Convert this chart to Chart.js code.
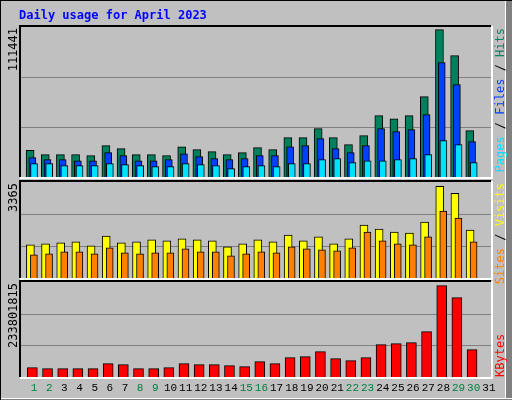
<!DOCTYPE html>
<html>
<head>
<meta charset="utf-8">
<script src="https://cdn.jsdelivr.net/npm/chart.js@4/dist/chart.umd.min.js"></script>
<style>
  html, body { margin: 0; padding: 0; background: #c0c0c0; }
  #wrap { position: relative; width: 512px; height: 400px; background: #c0c0c0; overflow: hidden;
          box-sizing: border-box; border-left: 1px solid #000; border-top: 1px solid #000; }
  #rframe { position: absolute; left: 504px; top: 0; width: 8px; height: 400px; background: #808080; border-left: 1px solid #fff; }
  #bframe { position: absolute; left: 0; top: 397px; width: 512px; height: 3px; background: #808080; border-top: 1px solid #fff; }
  canvas { position: absolute; left: 0; top: 0; }
</style>
</head>
<body>
<div id="wrap">
  <div id="rframe"></div>
  <div id="bframe"></div>
  <canvas id="c1" width="512" height="400"></canvas>
  <canvas id="c2" width="512" height="400"></canvas>
  <canvas id="c3" width="512" height="400"></canvas>
</div>
<script>
"use strict";

const days = ["1","2","3","4","5","6","7","8","9","10","11","12","13","14","15","16","17","18","19","20","21","22","23","24","25","26","27","28","29","30","31"];
const weekend = [1, 2, 8, 9, 15, 16, 22, 23, 29, 30];

const hits = [19800,16600,16600,16600,15900,23300,21100,16600,16600,15900,22500,20300,18800,16600,18100,21800,20300,29200,29200,35900,29200,24000,30700,45600,43300,45600,59700,109500,90200,34400,0];
const files = [14400,12900,12900,12100,12100,18100,15900,12100,12100,12900,17300,15100,13600,12900,13600,15900,15900,22500,23300,28500,21100,18100,23300,35900,33700,35200,46300,85000,68600,26300,0];
const pages = [9900,9900,8400,8400,8400,9900,9200,8400,7700,7700,9900,9200,8400,6200,7700,8400,7700,9900,9900,12900,13600,10700,12100,12100,12900,13600,16600,27000,24000,10700,0];

const sites = [1160,1195,1230,1265,1125,1473,1230,1265,1334,1300,1370,1334,1300,1090,1195,1334,1265,1508,1300,1440,1195,1370,1856,1717,1612,1578,1960,3213,2970,1682,0];
const visits = [812,847,916,916,847,1056,882,847,882,882,1021,916,916,777,847,916,882,1090,1021,986,951,1056,1612,1300,1195,1160,1440,2343,2100,1265,0];

const kbytes = [23000000,20500000,20500000,20500000,20500000,32800000,30300000,20500000,20500000,23000000,32800000,30300000,30300000,27900000,25400000,37700000,32800000,47600000,50000000,62300000,45100000,40200000,47600000,79500000,82000000,84500000,111500000,224700000,195200000,67200000,0];

const maxHits = 111441;
const maxSites = 3365;
const maxKbytes = 233801815;

const FONT = "'DejaVu Sans Mono', monospace";

function pts(values, shift) {
  return values.map((v, i) => ({ x: i + 1 + shift, y: v }));
}

function ds(values, shift, color, width, order) {
  return {
    data: pts(values, shift),
    backgroundColor: color,
    borderColor: "#000",
    borderWidth: 1,
    borderSkipped: "bottom",
    barThickness: width,
    grouped: false,
    order: order
  };
}

// frame, gridlines and labels of one panel
function panelPlugin(opts) {
  return {
    id: "panel",
    beforeDatasetsDraw(chart) {
      const { ctx, chartArea: a, scales } = chart;
      ctx.save();
      ctx.strokeStyle = "#808080";
      ctx.lineWidth = 1;
      [1, 2].forEach(k => {
        const y = Math.round(scales.y.getPixelForValue(opts.max * k / 3)) + 0.5;
        ctx.beginPath(); ctx.moveTo(a.left, y); ctx.lineTo(a.right, y); ctx.stroke();
      });
      ctx.restore();
    },
    afterDraw(chart) {
      const { ctx, chartArea: a, scales } = chart;
      ctx.save();
      ctx.lineWidth = 2;
      ctx.strokeStyle = "#000";
      ctx.beginPath(); ctx.moveTo(a.left - 1, a.bottom); ctx.lineTo(a.left - 1, a.top - 1); ctx.lineTo(a.right, a.top - 1); ctx.stroke();
      ctx.strokeStyle = "#fff";
      ctx.beginPath(); ctx.moveTo(a.right + 1, a.top - 1); ctx.lineTo(a.right + 1, a.bottom + 1); ctx.lineTo(a.left - 1, a.bottom + 1); ctx.stroke();

      // max value on the left
      ctx.font = "12px " + FONT;
      ctx.fillStyle = "#000";
      ctx.translate(19, a.top + 1);
      ctx.rotate(-Math.PI / 2);
      ctx.textAlign = "right";
      ctx.textBaseline = "bottom";
      ctx.fillText(String(opts.max), 0, 0);
      ctx.setTransform(1, 0, 0, 1, 0, 0);

      // legend on the right
      const parts = opts.legend;
      let total = 0;
      parts.forEach(p => { total += ctx.measureText(p[0]).width; });
      let start = opts.legendBottom ? a.bottom - total : a.top + 1;
      ctx.translate(494, a.top);
      ctx.rotate(-Math.PI / 2);
      ctx.textAlign = "left";
      ctx.textBaseline = "top";
      let pos = -(start - a.top) - total;
      for (const p of parts) {
        ctx.fillStyle = p[1];
        ctx.fillText(p[0], pos, 0);
        pos += ctx.measureText(p[0]).width;
      }
      ctx.setTransform(1, 0, 0, 1, 0, 0);

      if (opts.days) {
        ctx.font = "11px 'Liberation Mono', monospace";
        ctx.textAlign = "center";
        ctx.textBaseline = "top";
        days.forEach((d, i) => {
          ctx.fillStyle = weekend.includes(i + 1) ? "#008040" : "#000";
          ctx.fillText(d, scales.x.getPixelForValue(i + 1), a.bottom + 6);
        });
      }
      ctx.restore();
    }
  };
}

function makeChart(id, datasets, max, top, bottom, opts) {
  opts.max = max;
  return new Chart(document.getElementById(id), {
    type: "bar",
    data: { datasets: datasets },
    options: {
      responsive: false,
      animation: false,
      layout: { padding: { left: 20, right: 22, top: top, bottom: 400 - bottom } },
      plugins: { legend: { display: false }, tooltip: { enabled: false } },
      scales: {
        x: { type: "linear", min: 0.14, max: 31.14, offset: false, display: false },
        y: { min: 0, max: max, display: false }
      }
    },
    plugins: [panelPlugin(opts)]
  });
}

makeChart("c1", [
  ds(hits, -0.26, "#00805c", 8, 3),
  ds(files, -0.11, "#0040ff", 7, 2),
  ds(pages, 0, "#00e0ff", 7, 1)
], maxHits, 26, 176, {
  legend: [["Pages", "#00e0ff"], [" / ", "#000"], ["Files", "#0040ff"], [" / ", "#000"], ["Hits", "#00805c"]]
});

makeChart("c2", [
  ds(sites, -0.24, "#ffff00", 8, 2),
  ds(visits, -0.01, "#ff8000", 7, 1)
], maxSites, 181, 277, {
  legend: [["Sites", "#ff8000"], [" / ", "#000"], ["Visits", "#ffff00"]]
});

makeChart("c3", [
  ds(kbytes, -0.11, "#ff0000", 10, 1)
], maxKbytes, 281, 376, {
  legend: [["KBytes", "#ff0000"]],
  legendBottom: true,
  days: true
});

// title
const tctx = document.getElementById("c3").getContext("2d");
tctx.font = "bold 12px " + FONT;
tctx.fillStyle = "#0000ff";
tctx.textBaseline = "top";
tctx.fillText("Daily usage for April 2023", 18, 9);
</script>
</body>
</html>
